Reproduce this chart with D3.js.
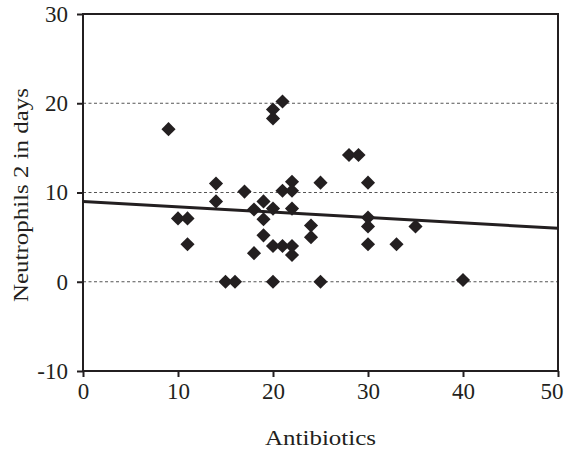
<!DOCTYPE html>
<html>
<head>
<meta charset="utf-8">
<script src="https://cdn.jsdelivr.net/npm/d3@7"></script>
<style>
  body { margin: 0; background: #fff; }
  text { font-family: "Liberation Serif", "Times New Roman", serif; fill: #231f20; }
</style>
</head>
<body>
<div id="chart"></div>
<script>
// antibiotics (x) vs neutrophils 2 in days (y)
var antibiotics = [9, 10, 11, 11, 14, 14, 15, 16, 17, 18, 18, 19, 19, 19, 20, 20, 20, 20, 20,
  21, 21, 21, 22, 22, 22, 22, 22, 24, 24, 25, 25, 28, 29, 30, 30, 30, 30, 33, 35, 40];
var neutrophils = [17.1, 7.1, 7.1, 4.2, 11, 9, 0, 0, 10.1, 8.1, 3.2, 9, 7, 5.2, 19.3, 18.3, 8.2, 4, 0,
  20.2, 10.2, 4, 11.2, 10.2, 8.2, 4, 3, 6.3, 5, 11.1, 0, 14.2, 14.2, 11.1, 7.2, 6.2, 4.2, 4.2, 6.2, 0.2];

var xTicks = [0, 10, 20, 30, 40, 50];
var yTicks = [-10, 0, 10, 20, 30];
var gridValues = [0, 10, 20];

// trend line: 9.0 at x=0, 6.0 at x=50
var trendX = [0, 50];
var trendY = [9.0, 6.0];

var width = 566, height = 449;
var margin = { top: 14, right: 8, bottom: 78, left: 83 };
var innerW = width - margin.left - margin.right;
var innerH = height - margin.top - margin.bottom;

var svg = d3.select("#chart").append("svg")
  .attr("width", width)
  .attr("height", height);

var g = svg.append("g")
  .attr("transform", "translate(" + margin.left + "," + margin.top + ")");

var x = d3.scaleLinear().domain([0, 50]).range([0, innerW]);
var y = d3.scaleLinear().domain([-10, 30]).range([innerH, 0]);

// dotted grid
g.selectAll(".grid")
  .data(gridValues)
  .enter().append("line")
    .attr("class", "grid")
    .attr("x1", 0)
    .attr("x2", innerW)
    .attr("y1", function(d) { return y(d); })
    .attr("y2", function(d) { return y(d); })
    .style("stroke", "#555")
    .style("stroke-width", 1)
    .style("stroke-dasharray", "3,2.5");

// frame
g.append("rect")
  .attr("width", innerW)
  .attr("height", innerH)
  .style("fill", "none")
  .style("stroke", "#231f20")
  .style("stroke-width", 2);

var fmt = function(d) { return String(d); };

var xAxis = g.append("g")
  .attr("transform", "translate(0," + innerH + ")")
  .call(d3.axisBottom(x).tickValues(xTicks).tickFormat(fmt).tickSize(6).tickPadding(6));

var yAxis = g.append("g")
  .call(d3.axisLeft(y).tickValues(yTicks).tickFormat(fmt).tickSize(6).tickPadding(9));

[xAxis, yAxis].forEach(function(a) {
  a.select(".domain").remove();
  a.selectAll(".tick line").style("stroke", "#231f20").style("stroke-width", 2);
  a.selectAll(".tick text")
    .style("font-family", "'Liberation Serif', serif")
    .style("font-size", "23px")
    .style("fill", "#231f20");
});

// last x label sits inside the page edge, as in the original
xAxis.selectAll(".tick text")
  .filter(function(d) { return d === 50; })
  .attr("text-anchor", "end")
  .attr("x", 5);

// trend line
var line = d3.line()
  .x(function(d) { return x(d[0]); })
  .y(function(d) { return y(d[1]); });

g.append("path")
  .datum(d3.zip(trendX, trendY))
  .attr("d", line)
  .style("fill", "none")
  .style("stroke", "#231f20")
  .style("stroke-width", 3);

// diamond markers
var diamond = d3.symbol().type(d3.symbolSquare).size(100);

g.selectAll(".pt")
  .data(d3.zip(antibiotics, neutrophils))
  .enter().append("path")
    .attr("class", "pt")
    .attr("d", diamond)
    .attr("transform", function(d) {
      return "translate(" + x(d[0]) + "," + y(d[1]) + ") rotate(45)";
    })
    .style("fill", "#231f20");

// axis titles
svg.append("text")
  .attr("x", margin.left + innerW / 2)
  .attr("y", 445)
  .attr("text-anchor", "middle")
  .attr("textLength", 111)
  .attr("lengthAdjust", "spacingAndGlyphs")
  .style("font-size", "22px")
  .text("Antibiotics");

svg.append("text")
  .attr("transform", "translate(28,195) rotate(-90)")
  .attr("text-anchor", "middle")
  .attr("textLength", 214)
  .attr("lengthAdjust", "spacingAndGlyphs")
  .style("font-size", "22px")
  .text("Neutrophils 2 in days");
</script>
</body>
</html>
